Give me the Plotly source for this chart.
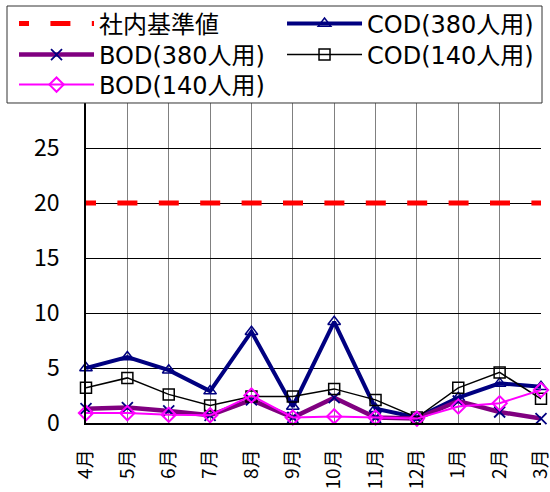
import plotly.graph_objects as go

months = ["4月", "5月", "6月", "7月", "8月", "9月", "10月", "11月", "12月", "1月", "2月", "3月"]
standard = [20] * 12
cod_380 = [5.0, 6.0, 4.8, 2.9, 8.3, 1.5, 9.2, 1.3, 0.5, 2.3, 3.6, 3.3]
bod_380 = [1.3, 1.4, 1.1, 0.7, 2.1, 0.5, 2.3, 0.5, 0.4, 2.0, 1.0, 0.4]
cod_140 = [3.2, 4.1, 2.6, 1.6, 2.4, 2.4, 3.1, 2.1, 0.5, 3.2, 4.6, 2.2]
bod_140 = [0.9, 0.9, 0.75, 0.7, 2.5, 0.5, 0.6, 0.5, 0.4, 1.5, 1.8, 3.0]

x = list(range(len(months)))
tick_font = "Noto Sans CJK JP"
legend_font = "DejaVu Sans, Noto Sans CJK JP"

fig = go.Figure()
fig.add_trace(go.Scatter(
    x=x, y=standard, name="社内基準値", mode="lines", cliponaxis=False, legend="legend",
    line=dict(color="#FF0000", width=5, dash="10px,21.4px,10px,0px"),
))
fig.add_trace(go.Scatter(
    x=x, y=cod_380, name="COD(380人用)", mode="lines+markers", cliponaxis=False, legend="legend",
    line=dict(color="#000080", width=4),
    marker=dict(symbol="triangle-up-open", size=11, color="#000080", line=dict(width=1.5)),
))
fig.add_trace(go.Scatter(
    x=x, y=bod_380, name="BOD(380人用)", mode="lines+markers", cliponaxis=False, legend="legend2",
    line=dict(color="#800080", width=4.5),
    marker=dict(symbol="x-thin-open", size=11, color="#000080", line=dict(width=1.8, color="#000080")),
))
fig.add_trace(go.Scatter(
    x=x, y=cod_140, name="COD(140人用)", mode="lines+markers", cliponaxis=False, legend="legend2",
    line=dict(color="#000000", width=1.5),
    marker=dict(symbol="square-open", size=11, color="#000000", line=dict(width=1.5)),
))
fig.add_trace(go.Scatter(
    x=x, y=bod_140, name="BOD(140人用)", mode="lines+markers", cliponaxis=False, legend="legend3",
    line=dict(color="#FF00FF", width=2),
    marker=dict(symbol="diamond-open", size=11, color="#FF00FF", line=dict(width=2)),
))

# one legend per row, laid out in two columns inside a shared frame
row_common = dict(
    orientation="h", xref="paper", yref="paper",
    x=-0.1582, xanchor="left", yanchor="middle",
    bgcolor="rgba(0,0,0,0)", borderwidth=0,
    font=dict(family=legend_font, size=24, color="#000000"),
    entrywidth=178, itemwidth=75, tracegroupgap=0,
)

fig.update_layout(
    width=550, height=492,
    margin=dict(l=86, r=9, t=93, b=69, autoexpand=False),
    paper_bgcolor="white", plot_bgcolor="white",
    font=dict(family=tick_font, color="#000000"),
    showlegend=True,
    legend=dict(row_common, y=1.2091),
    legend2=dict(row_common, y=1.1152),
    legend3=dict(row_common, y=1.0242),
    shapes=[dict(
        type="rect", xref="paper", yref="paper",
        x0=-0.1736, x1=1.0022, y0=0.9697, y1=1.2636,
        fillcolor="white", line=dict(color="#333333", width=1), layer="above",
    )],
    xaxis=dict(
        range=[-0.0001, 11.0001], tickmode="array", tickvals=x, ticktext=months,
        tickangle=-90, tickfont=dict(family=tick_font, size=19),
        ticklabeloverflow="allow",
        showgrid=True, gridcolor="#808080", gridwidth=1,
        showline=True, linecolor="#000000", linewidth=1.5,
        zeroline=False, ticks="", ticklabelstandoff=17,
    ),
    yaxis=dict(
        range=[0, 30], tickmode="array", tickvals=[0, 5, 10, 15, 20, 25],
        tickfont=dict(family=tick_font, size=23),
        showgrid=True, gridcolor="#000000", gridwidth=1,
        showline=True, linecolor="#000000", linewidth=1.5,
        zeroline=False, ticks="", ticklabelstandoff=20,
    ),
)

fig.write_html("out.html")
